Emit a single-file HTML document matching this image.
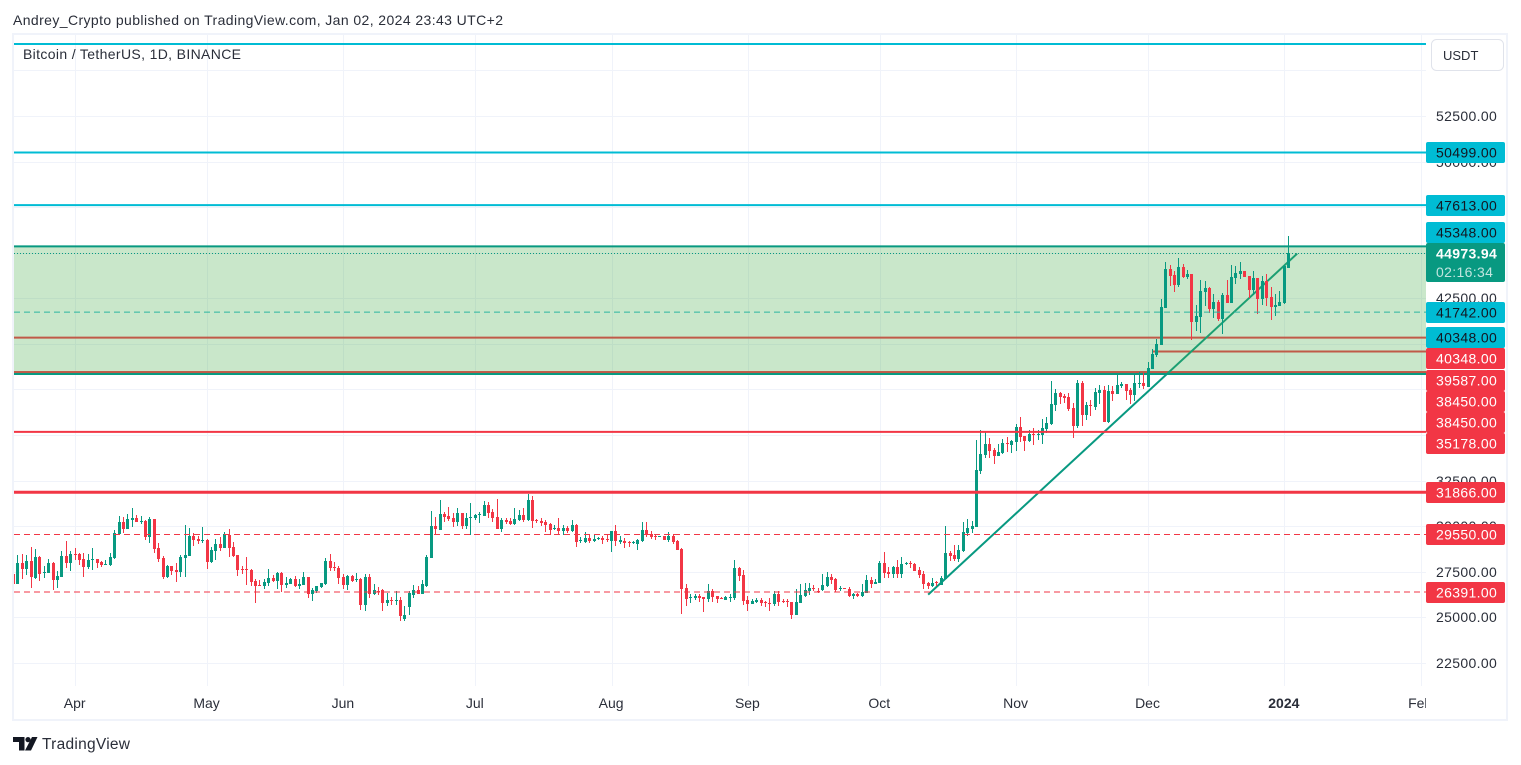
<!DOCTYPE html>
<html lang="en">
<head>
<meta charset="utf-8">
<title>BTCUSDT chart</title>
<style>
html,body{margin:0;padding:0;background:#fff;}
svg{display:block;font-family:"Liberation Sans",sans-serif;}
</style>
</head>
<body>
<svg id="chart" xmlns="http://www.w3.org/2000/svg" width="1521" height="765" viewBox="0 0 1521 765">
  <defs>
    <clipPath id="pane-clip"><rect x="14" y="35" width="1412" height="651"/></clipPath>
    <clipPath id="time-clip"><rect x="14" y="686" width="1412" height="34"/></clipPath>
  </defs>
  <rect x="0" y="0" width="1521" height="765" fill="#ffffff"/>
  <text x="13" y="25" font-size="14" fill="#2a2e39" textLength="490" lengthAdjust="spacing">Andrey_Crypto published on TradingView.com, Jan 02, 2024 23:43 UTC+2</text>
  <rect x="13" y="34" width="1494" height="686" fill="#ffffff" stroke="#f0f3fa" stroke-width="2"/>
  <g id="grid"></g>
  <g id="under" clip-path="url(#pane-clip)"></g>
  <g id="candles" clip-path="url(#pane-clip)" shape-rendering="crispEdges"></g>
  <g id="over" clip-path="url(#pane-clip)"></g>
  <text x="23" y="59" font-size="14" fill="#2a2e39" textLength="218" lengthAdjust="spacing">Bitcoin / TetherUS, 1D, BINANCE</text>
  <g id="time-axis" clip-path="url(#time-clip)"></g>
  <g id="price-axis"></g>
  <g id="price-tags"></g>
  <g>
    <rect x="1431.5" y="39.5" width="72" height="31" rx="5" fill="#ffffff" stroke="#e0e3eb"/>
    <text x="1443" y="60" font-size="13" fill="#2a2e39">USDT</text>
  </g>
  <g>
    <path d="M13 737h11.500v13.500h-5.500v-8.500h-6z M32 737h5.500l-6.500 13.500h-6z" fill="#131722"/>
    <circle cx="28" cy="739.600" r="2.600" fill="#131722"/>
    <text x="42" y="749" font-size="15.500" fill="#2a2e39" textLength="88" lengthAdjust="spacing">TradingView</text>
  </g>
</svg>
<script>
// ---- Axis data ----
const firstBarDate = '2023-03-18';
const monthDates = ['2023-04-01','2023-05-01','2023-06-01','2023-07-01','2023-08-01','2023-09-01','2023-10-01','2023-11-01','2023-12-01','2024-01-01','2024-02-01'];
const monthLabels = ['Apr','May','Jun','Jul','Aug','Sep','Oct','Nov','Dec','2024','Feb'];
const priceTicks = [52500,50000,47500,45000,42500,40000,37500,35000,32500,30000,27500,25000,22500];

// ---- Daily OHLC series ----
const opens = [
27380,26830,27980,27650,28090,27160,28310,27430,27430,27980,
27050,27220,28370,27980,28480,28480,28200,27760,28150,28200,
28040,27870,27870,28260,29570,30230,29850,30340,30450,30230,
30290,29410,30400,28810,28260,27220,27820,27600,27490,28260,
28370,29460,29300,29190,29240,28040,28640,29030,28810,29520,
28860,28420,27650,27650,27600,27000,26780,26720,26890,27160,
27000,27430,26780,26830,27110,26720,26780,27220,26280,26470,
26670,26830,28090,27760,27710,27220,26780,27270,27050,27105,
25680,27215,26280,26450,26500,25790,25955,25900,25955,24900,
25570,26230,26500,26280,26720,28260,30010,29790,30670,30560,
30450,30230,30725,30010,30450,30450,30615,30560,31160,30780,
30505,29850,30340,30285,30120,30340,30615,30340,31440,30340,
30285,30230,30120,29850,29900,29740,29900,29740,30070,29190,
29135,29355,29190,29300,29355,29300,29190,29740,29135,29190,
29135,29080,29025,29190,29790,29570,29460,29410,29460,29245,
29460,29190,28750,26610,26065,26065,26170,26120,26010,26450,
26170,26060,25950,26060,26060,27710,27330,25950,25730,25840,
25950,25840,25790,25730,26280,25900,25900,25840,25130,25790,
26170,26450,26610,26450,26500,26720,27220,27110,26560,26610,
26560,26170,26280,26170,26340,27050,26830,26890,27980,27490,
27380,27760,27380,27930,27980,27930,27600,27380,26890,26720,
26940,26780,27110,28530,28420,28200,28640,29630,29850,29980,
33030,33910,34510,34180,33850,34020,34565,34455,34620,35445,
34950,34675,35060,35005,35005,35330,35610,36650,37310,37140,
37090,36480,35500,37855,36100,36650,36540,37310,37470,35715,
37420,37250,37690,37800,37470,37200,37800,37855,37635,38620,
39390,39940,41970,44110,43780,43230,44220,43670,43830,41200,
41480,42850,43070,41910,42300,41370,42680,42240,43610,43830,
44000,43720,42960,43610,42460,43450,42570,42020,42080,42240,
44160];
const highs = [
27690,28420,28480,28420,28860,28750,28370,27820,28200,28040,
27540,28640,29190,28640,28810,28530,28530,28480,28810,28200,
28090,28150,28530,29790,30560,30500,30670,31000,30620,30560,
30340,30500,30400,29080,28370,27870,27820,27980,28420,30070,
29900,29630,29460,29960,29300,28860,29300,29410,29680,29850,
29140,28420,27820,28310,27650,27110,27050,27110,27650,27330,
27490,27490,27220,27160,27270,27110,27490,27220,26610,26720,
26890,28260,28480,28040,27820,27380,27330,27325,27435,27160,
27380,27380,26830,26665,26555,26340,26120,26450,26120,25625,
26450,26780,26720,27050,28420,30835,30505,31440,30780,31050,
30725,31000,30725,30725,31270,30670,30780,31380,31330,30945,
31490,30450,30450,30450,31000,30890,31000,31770,31660,30395,
30450,30340,30175,30070,30450,30070,30010,30340,30120,29410,
29680,29570,29570,29410,29460,29520,29740,30070,29460,29355,
29190,29190,29300,30230,30230,29740,29570,29460,29460,29680,
29570,29245,28805,26830,26280,26280,26280,26120,26830,26560,
26170,26120,26170,26280,28150,27760,27600,26170,26010,26060,
26060,25900,26060,26450,26450,26010,26010,25840,26560,26830,
26890,26890,26780,26610,27380,27490,27380,27160,26720,26610,
26670,26340,26340,26830,27330,27220,27110,28090,28590,27760,
27820,28150,28310,28040,28090,27980,27760,27540,26940,27160,
27000,27270,30010,28640,28970,28970,30230,30400,30290,34730,
35280,35170,34840,34290,34510,34780,34895,34730,35610,35990,
34950,35280,35390,35280,35880,35990,37965,37525,37360,37250,
37310,36760,38020,37965,36810,36925,37580,37745,37690,37745,
37690,38400,37910,37800,37580,38400,38460,38400,39010,39720,
40270,42460,44490,44330,44000,44710,44380,44050,43830,42130,
43500,43450,43120,42740,42410,42790,43500,44330,44270,44490,
44000,43720,44000,43610,43720,43830,43120,42740,42900,44330,
45920];
const lows = [
26560,26830,27110,27330,26610,27110,27000,27160,27430,26500,
26610,27220,27710,27540,28150,27870,27220,27650,27600,27710,
27760,27870,27820,28200,29570,29630,29850,29960,30230,30120,
29240,29080,28530,28040,27110,27160,27330,26940,27220,27220,
28370,28920,29030,29080,27650,27980,28150,28640,28810,28310,
28310,27270,27380,26780,26720,25790,26720,26560,26720,26940,
26560,26390,26610,26830,26670,26560,26780,26060,25900,26340,
26610,26780,27540,27540,26830,26560,26500,26940,26940,25405,
25350,26065,26230,26230,25350,25625,25680,25680,24800,24800,
25130,26065,26280,26280,26665,28260,29520,29790,30230,30285,
29960,30010,29850,29850,29520,30340,30175,30560,30450,30230,
29850,29680,30120,30070,30070,30285,30230,30285,29900,30175,
30010,29680,29520,29790,29520,29520,29630,29680,28860,29080,
29080,29080,29135,29245,29025,29135,28590,28915,29025,28805,
28860,29025,28695,29135,29410,29300,29245,29410,29245,29135,
29025,28695,25190,25625,25790,25955,25840,25300,25840,25840,
25790,26010,25950,25840,25950,27000,25680,25350,25730,25790,
25620,25570,25350,25620,25620,25790,25570,24910,25130,25790,
26120,26230,26450,26340,26450,26670,26830,26390,26450,26560,
26120,26010,26120,26120,26340,26610,26830,26890,27160,27160,
27160,27160,27160,27870,27710,27540,27160,26560,26560,26670,
26720,26780,27110,28090,28090,28040,28590,29460,29630,29940,
32865,33745,33745,33415,33850,33960,34070,34020,34130,34620,
34125,34620,34455,34730,34510,35110,35550,36320,36700,36760,
36320,34840,35390,35500,35825,36045,36375,36700,35715,35660,
36870,37250,37580,36925,36700,36870,37580,37525,37635,38620,
39280,39940,41970,43180,42850,43120,43610,43560,40210,40710,
40600,42080,41700,41420,41260,40540,42240,42240,43290,43560,
43670,42520,42680,41640,42130,42080,41310,41530,42080,42190,
44160];
const closes = [
26830,27980,27650,28090,27220,28310,27380,27490,27980,27050,
27270,28370,27980,28480,28420,28150,27760,28150,28200,27980,
27870,27930,28310,29630,30230,29850,30400,30450,30230,30290,
29410,30400,28750,28200,27220,27820,27540,27490,28310,28420,
29460,29240,29190,29240,28040,28700,29030,28810,29570,28810,
28370,27600,27600,27600,26940,26720,26720,26940,27160,27000,
27430,26780,26890,27110,26720,26830,27220,26280,26500,26720,
26890,28090,27710,27710,27160,26780,27270,26995,27105,25680,
27215,26280,26500,26395,25790,25955,25900,25955,25075,25130,
26340,26500,26280,26830,28310,30010,29850,30670,30505,30395,
30230,30725,30010,30450,30505,30615,30670,31160,30725,30450,
29850,30340,30230,30120,30395,30615,30340,31440,30285,30285,
30175,30070,29790,29900,29740,29900,29740,30070,29135,29245,
29355,29190,29300,29355,29245,29245,29740,29190,29245,29080,
29080,29135,29245,29790,29520,29410,29410,29460,29245,29460,
29135,28695,26555,26010,26120,26175,26060,26010,26450,26120,
26010,26010,26120,26120,27710,27270,25900,25730,25900,25950,
25790,25790,25730,26280,25840,25840,25840,25130,25840,26230,
26500,26610,26560,26390,26780,27220,27050,26500,26610,26560,
26170,26280,26170,26390,27050,26830,26940,27980,27430,27380,
27760,27380,27930,27980,27930,27540,27330,26830,26720,26890,
26890,27160,28530,28370,28200,28700,29680,29900,30010,33085,
33960,34510,34130,33850,34070,34565,34510,34675,35445,34895,
34675,35060,35005,35060,35390,35660,36700,37310,37090,37030,
36430,35500,37855,36100,36650,36595,37360,37470,35715,37420,
37250,37745,37800,37415,37200,37855,37855,37690,38680,39450,
39990,42020,44110,43720,43230,44220,43670,43830,41200,41530,
42900,43070,41910,42300,41370,42680,42240,43670,43890,44000,
43670,42960,43610,42460,43450,42520,42020,42130,42300,44270,
44974];

// ---- Drawing levels (prices) ----
const topLinePrice = 56450;
const cyanLevels = [50499,47613];
const underZoneLevels = [40348,38450,38450];
const partialLevel = 39587;
const solidRedLevels = [35178,31866];
const dashedRedLevels = [29550,26391];
const dashedZoneLevel = 41742;
const zoneTopPrice = 45348;
const zoneBottomPrice = 38350;
const currentPrice = 44973.94;
const countdownText = '02:16:34';
const trendStartDate = '2023-10-12';
const trendStartPrice = 26250;
const trendEndDate = '2024-01-03';
const trendEndPrice = 44950;
const partialStartDate = '2023-12-02';

// ---- Price tags on the axis ----
const tagPrices = [50499,47613,45348,41742,40348,40348,39587,38450,38450,35178,31866,29550,26391];
const tagColors = ['cyan','cyan','cyan','cyan','cyan','red','red','red','red','red','red','red','red'];

// ---- Scales ----
const NS = 'http://www.w3.org/2000/svg';
const PANE_LEFT = 14, PANE_RIGHT = 1426, PANE_BOTTOM = 686;
const BAR_STEP = 4.397, BAR_ORIGIN = 13.6;
const REF_PRICE = 52500, REF_Y = 116, PX_PER_UNIT = 0.018233;
const GREEN = '#089981', RED = '#f23645', CYAN = '#00bcd4';

function yScale(price){ return REF_Y + (REF_PRICE - price) * PX_PER_UNIT; }
function barIndex(dateStr){ return Math.round((Date.parse(dateStr) - Date.parse(firstBarDate)) / 86400000); }
function xScale(index){ return BAR_ORIGIN + index * BAR_STEP; }
function make(parent, tag, attrs){
  const el = document.createElementNS(NS, tag);
  for (const k in attrs) el.setAttribute(k, attrs[k]);
  parent.appendChild(el);
  return el;
}

const gridG = document.getElementById('grid');
const underG = document.getElementById('under');
const candlesG = document.getElementById('candles');
const overG = document.getElementById('over');
const timeG = document.getElementById('time-axis');
const priceG = document.getElementById('price-axis');
const tagsG = document.getElementById('price-tags');

// Grid
priceTicks.concat([55000]).forEach(function(tick){
  const y = Math.round(yScale(tick)) + 0.5;
  const line = make(gridG, 'line', {x1: PANE_LEFT, x2: PANE_RIGHT, y1: y, y2: y, stroke: '#f0f3fa', 'stroke-width': 1});
  
  
});
monthDates.forEach(function(d){
  const x = Math.round(xScale(barIndex(d))) + 0.5;
  const line = make(gridG, 'line', {x1: x, x2: x, y1: 35, y2: PANE_BOTTOM, stroke: '#f0f3fa', 'stroke-width': 1});
  
  
});

// Drawings under the zone
function hLine(parent, price, color, width, name, x1, dash){
  const y = yScale(price);
  const attrs = {x1: x1, x2: PANE_RIGHT, y1: y, y2: y, stroke: color, 'stroke-width': width};
  if (dash) attrs['stroke-dasharray'] = dash;
  return make(parent, 'line', attrs);
}
underZoneLevels.forEach(function(p){
  const l = hLine(underG, p, RED, 2, '', PANE_LEFT);
  
  
});
const partialLine = hLine(underG, partialLevel, RED, 2, '', xScale(barIndex(partialStartDate)));



const trend = make(underG, 'line', {
  x1: xScale(barIndex(trendStartDate)), y1: yScale(trendStartPrice),
  x2: xScale(barIndex(trendEndDate)) + 4, y2: yScale(trendEndPrice),
  stroke: GREEN, 'stroke-width': 2
});



const zone = make(underG, 'rect', {
  x: PANE_LEFT, width: PANE_RIGHT - PANE_LEFT,
  y: yScale(zoneTopPrice), height: yScale(zoneBottomPrice) - yScale(zoneTopPrice),
  fill: 'rgba(76,175,80,0.3)'
});


[zoneTopPrice, zoneBottomPrice].forEach(function(p){
  const l = hLine(underG, p, GREEN, 2, '', PANE_LEFT);
  
  
});

// Candles
opens.forEach(function(o, i){
  const h = highs[i], l = lows[i], c = closes[i];
  const color = c >= o ? GREEN : RED;
  const cx = Math.round(xScale(i) - 0.5);
  const topY = Math.round(yScale(Math.max(o, c)));
  const botY = Math.round(yScale(Math.min(o, c)));
  const wickTop = Math.round(yScale(h));
  const wickBot = Math.round(yScale(l));
  const wick = make(candlesG, 'rect', {x: cx, y: wickTop, width: 1, height: Math.max(1, wickBot - wickTop), fill: color});
  
  
  const body = make(candlesG, 'rect', {x: cx - 1, y: topY, width: 3, height: Math.max(1, botY - topY), fill: color});
  
  
});

// Drawings above the candles
const topLine = hLine(overG, topLinePrice, CYAN, 2, '', PANE_LEFT);


cyanLevels.forEach(function(p){
  const l = hLine(overG, p, CYAN, 2, '', PANE_LEFT);
  
  
});
solidRedLevels.forEach(function(p, i){
  const l = hLine(overG, p, RED, i === 0 ? 2 : 3, '', PANE_LEFT);
  
  
});
dashedRedLevels.forEach(function(p){
  const l = hLine(overG, p, RED, 1, '', PANE_LEFT, '6 4');
  
  
});
const zoneDash = hLine(overG, dashedZoneLevel, '#2bb5a0', 1, '', PANE_LEFT, '6 4');


const lastLine = make(overG, 'line', {
  x1: PANE_LEFT, x2: PANE_RIGHT,
  y1: Math.round(yScale(currentPrice)) + 0.5, y2: Math.round(yScale(currentPrice)) + 0.5,
  stroke: GREEN, 'stroke-width': 1, 'stroke-dasharray': '1 2'
});



// Time axis
monthLabels.forEach(function(label, i){
  const t = make(timeG, 'text', {
    x: xScale(barIndex(monthDates[i])) - 0.5, y: 708, 'text-anchor': 'middle',
    'font-size': 14, fill: '#2a2e39', 'font-weight': label === '2024' ? 'bold' : 'normal'
  });
  t.textContent = label;
  
  
});

// Price axis ticks
priceTicks.forEach(function(tick){
  const t = make(priceG, 'text', {
    x: 1436, y: Math.round(yScale(tick)) + 5, 'font-size': 14, fill: '#2a2e39', 'letter-spacing': '0.35'
  });
  t.textContent = tick.toFixed(2);
  
  
});

// Price tags, stacked so they never overlap
const TAG_H = 21.25;
const blockTop = Math.round(yScale(currentPrice) - 10.5);
let prevBottom = -Infinity;
tagPrices.forEach(function(price, i){
  let top = yScale(price) - 10.5;
  if (top < prevBottom) top = prevBottom;
  if (top < blockTop && top + TAG_H > blockTop) top = blockTop - TAG_H;
  if (top < blockTop + 39 && top >= blockTop) top = blockTop + 39;
  prevBottom = top + TAG_H;
  const drawTop = Math.round(top);
  const isCyan = tagColors[i] === 'cyan';
  const r = make(tagsG, 'rect', {x: 1426, y: drawTop, width: 79, height: 21, rx: 2, fill: isCyan ? CYAN : RED});
  
  
  const t = make(tagsG, 'text', {
    x: 1436, y: drawTop + 15.5, 'font-size': 14, fill: isCyan ? '#131722' : '#ffffff', 'letter-spacing': '0.35'
  });
  t.textContent = price.toFixed(2);
  
  
});

// Current price block
const block = make(tagsG, 'rect', {x: 1426, y: blockTop, width: 79, height: 39, rx: 2, fill: GREEN});


const nowText = make(tagsG, 'text', {x: 1436, y: blockTop + 15.5, 'font-size': 14, fill: '#ffffff', 'letter-spacing': '0.35', 'font-weight': 'bold'});
nowText.textContent = currentPrice.toFixed(2);


const cdText = make(tagsG, 'text', {x: 1436, y: blockTop + 34, 'font-size': 14, fill: 'rgba(255,255,255,0.75)', 'letter-spacing': '0.35'});
cdText.textContent = countdownText;


</script>
</body>
</html>
